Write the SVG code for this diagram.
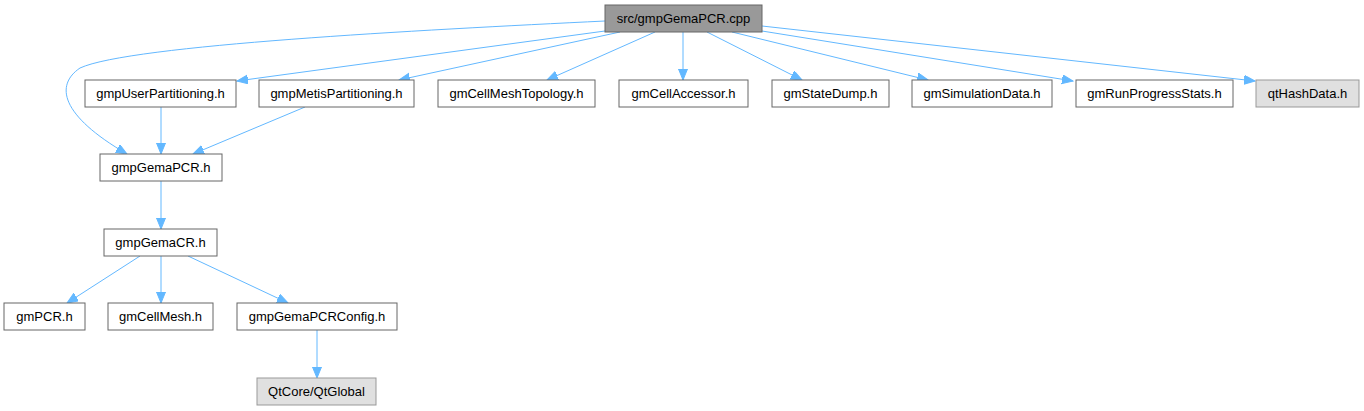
<svg xmlns="http://www.w3.org/2000/svg" width="1364" height="411" viewBox="0 0 1364 411">
<style>
.n rect{fill:#ffffff;stroke:#666666;stroke-width:1}
.n.root rect{fill:#999999;stroke:#666666}
.n.ext rect{fill:#e0e0e0;stroke:#999999}
.n text{font-family:"Liberation Sans",Arial,sans-serif;font-size:13px;fill:#000000;text-anchor:middle}
.e path{fill:none;stroke:#63b8ff;stroke-width:1;marker-end:url(#ah)}
</style>
<defs>
<marker id="ah" markerUnits="userSpaceOnUse" markerWidth="12" markerHeight="10" refX="11" refY="4.5" orient="auto">
<path d="M0,0 L11,4.5 L0,9 z" fill="#63b8ff" stroke="#63b8ff" stroke-width="1"/>
</marker>
</defs>
<rect width="1364" height="411" fill="#ffffff"/>
<g id="connectors" class="e">
<path d="M605,21 C420,30 130,45 80,68 C55,85 60,115 127,154"/>
<path d="M605,31 L237,81"/>
<path d="M620,32 L399,80"/>
<path d="M655,32 L547,80"/>
<path d="M683,32 L683,80"/>
<path d="M707,32 L802,80"/>
<path d="M732,32 L928,80"/>
<path d="M762,31 L1073,81"/>
<path d="M762,26 L1255,81"/>
<path d="M161,107 L161,154"/>
<path d="M305,107 L193,154"/>
<path d="M161,181 L161,229"/>
<path d="M140,256 L67,303"/>
<path d="M161,256 L161,303"/>
<path d="M188,256 L288,303"/>
<path d="M317,330 L317,378"/>
</g>
<g id="n_src" class="n root"><rect x="605" y="5" width="157" height="27"/><text x="683.5" y="23">src/gmpGemaPCR.cpp</text></g>
<g id="n_userpart" class="n"><rect x="85" y="80" width="151" height="27"/><text x="160.5" y="98">gmpUserPartitioning.h</text></g>
<g id="n_metispart" class="n"><rect x="259" y="80" width="155" height="27"/><text x="336.5" y="98">gmpMetisPartitioning.h</text></g>
<g id="n_meshtopo" class="n"><rect x="438" y="80" width="157" height="27"/><text x="516.5" y="98">gmCellMeshTopology.h</text></g>
<g id="n_accessor" class="n"><rect x="619" y="80" width="129" height="27"/><text x="683.5" y="98">gmCellAccessor.h</text></g>
<g id="n_statedump" class="n"><rect x="772" y="80" width="117" height="27"/><text x="830.5" y="98">gmStateDump.h</text></g>
<g id="n_simdata" class="n"><rect x="912" y="80" width="140" height="27"/><text x="982" y="98">gmSimulationData.h</text></g>
<g id="n_runstats" class="n"><rect x="1076" y="80" width="157" height="27"/><text x="1154.5" y="98">gmRunProgressStats.h</text></g>
<g id="n_qthash" class="n ext"><rect x="1256" y="80" width="103" height="27"/><text x="1307.5" y="98">qtHashData.h</text></g>
<g id="n_gemapcr" class="n"><rect x="100" y="154" width="122" height="27"/><text x="161" y="172">gmpGemaPCR.h</text></g>
<g id="n_gemacr" class="n"><rect x="104" y="229" width="113" height="27"/><text x="160.5" y="247">gmpGemaCR.h</text></g>
<g id="n_pcr" class="n"><rect x="4" y="303" width="81" height="27"/><text x="44.5" y="321">gmPCR.h</text></g>
<g id="n_cellmesh" class="n"><rect x="108" y="303" width="105" height="27"/><text x="160.5" y="321">gmCellMesh.h</text></g>
<g id="n_config" class="n"><rect x="237" y="303" width="160" height="27"/><text x="317" y="321">gmpGemaPCRConfig.h</text></g>
<g id="n_qtglobal" class="n ext"><rect x="257" y="378" width="119" height="27"/><text x="316.5" y="396">QtCore/QtGlobal</text></g>
</svg>
